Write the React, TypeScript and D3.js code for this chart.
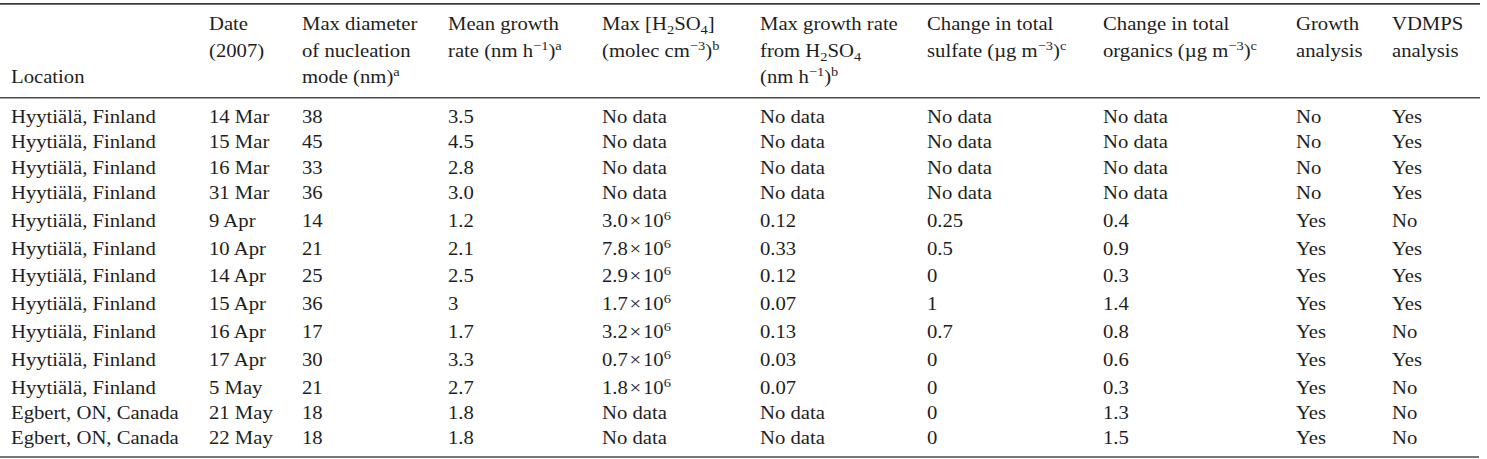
import React from "react";
import * as d3 from "d3";

const locations = [
  "Hyytiälä, Finland", "Hyytiälä, Finland", "Hyytiälä, Finland", "Hyytiälä, Finland",
  "Hyytiälä, Finland", "Hyytiälä, Finland", "Hyytiälä, Finland", "Hyytiälä, Finland",
  "Hyytiälä, Finland", "Hyytiälä, Finland", "Hyytiälä, Finland",
  "Egbert, ON, Canada", "Egbert, ON, Canada",
];
const dates = ["14 Mar", "15 Mar", "16 Mar", "31 Mar", "9 Apr", "10 Apr", "14 Apr", "15 Apr", "16 Apr", "17 Apr", "5 May", "21 May", "22 May"];
const maxDiameter = ["38", "45", "33", "36", "14", "21", "25", "36", "17", "30", "21", "18", "18"];
const meanGrowth = ["3.5", "4.5", "2.8", "3.0", "1.2", "2.1", "2.5", "3", "1.7", "3.3", "2.7", "1.8", "1.8"];
// mantissa of [H2SO4] ×10^6, or "No data"
const maxH2SO4 = ["No data", "No data", "No data", "No data", "3.0", "7.8", "2.9", "1.7", "3.2", "0.7", "1.8", "No data", "No data"];
const maxGrowthH2SO4 = ["No data", "No data", "No data", "No data", "0.12", "0.33", "0.12", "0.07", "0.13", "0.03", "0.07", "No data", "No data"];
const sulfateChange = ["No data", "No data", "No data", "No data", "0.25", "0.5", "0", "1", "0.7", "0", "0", "0", "0"];
const organicsChange = ["No data", "No data", "No data", "No data", "0.4", "0.9", "0.3", "1.4", "0.8", "0.6", "0.3", "1.3", "1.5"];
const growthAnalysis = ["No", "No", "No", "No", "Yes", "Yes", "Yes", "Yes", "Yes", "Yes", "Yes", "Yes", "Yes"];
const vdmpsAnalysis = ["Yes", "Yes", "Yes", "Yes", "No", "Yes", "Yes", "Yes", "No", "Yes", "No", "No", "No"];

type Seg = { t: string; s?: "sup" | "sub" };
const columnKeys = ["loc", "date", "diam", "mgr", "h2so4", "mgrh", "sulf", "org", "grow", "vdmps"];
// header lines per column (line index 0..2)
const headers: Record<string, (Seg[] | null)[]> = {
  loc: [null, null, [{ t: "Location" }]],
  date: [[{ t: "Date" }], [{ t: "(2007)" }], null],
  diam: [[{ t: "Max diameter" }], [{ t: "of nucleation" }], [{ t: "mode (nm)" }, { t: "a", s: "sup" }]],
  mgr: [[{ t: "Mean growth" }], [{ t: "rate (nm h" }, { t: "−1", s: "sup" }, { t: ")" }, { t: "a", s: "sup" }], null],
  h2so4: [[{ t: "Max [H" }, { t: "2", s: "sub" }, { t: "SO" }, { t: "4", s: "sub" }, { t: "]" }], [{ t: "(molec cm" }, { t: "−3", s: "sup" }, { t: ")" }, { t: "b", s: "sup" }], null],
  mgrh: [[{ t: "Max growth rate" }], [{ t: "from H" }, { t: "2", s: "sub" }, { t: "SO" }, { t: "4", s: "sub" }], [{ t: "(nm h" }, { t: "−1", s: "sup" }, { t: ")" }, { t: "b", s: "sup" }]],
  sulf: [[{ t: "Change in total" }], [{ t: "sulfate (µg m" }, { t: "−3", s: "sup" }, { t: ")" }, { t: "c", s: "sup" }], null],
  org: [[{ t: "Change in total" }], [{ t: "organics (µg m" }, { t: "−3", s: "sup" }, { t: ")" }, { t: "c", s: "sup" }], null],
  grow: [[{ t: "Growth" }], [{ t: "analysis" }], null],
  vdmps: [[{ t: "VDMPS" }], [{ t: "analysis" }], null],
};

const W = 1487;
const H = 459;
const FS = 18;
const SX = 1.15;
const COLOR = "#1e1e1e";

const xCol = d3.scaleOrdinal<string, number>()
  .domain(columnKeys)
  .range([11, 209, 302, 448, 602, 760, 927, 1103, 1296, 1392]);

const headerY = d3.scaleLinear().domain([0, 2]).range([30, 83]);

function Rich({ x, y, segs }: { x: number; y: number; segs: Seg[] }) {
  let off = 0;
  return (
    <text transform={`translate(${x},${y}) scale(${SX},1)`} fontFamily="'Liberation Serif', 'Times New Roman', serif" fontSize={FS} fill={COLOR}>
      {segs.map((sg, i) => {
        const target = sg.s === "sup" ? -7 : sg.s === "sub" ? 4 : 0;
        const dy = target - off;
        off = target;
        return (
          <tspan key={i} dy={dy} fontSize={sg.s ? FS * 0.7 : FS}>
            {sg.t}
          </tspan>
        );
      })}
    </text>
  );
}

export default function App() {
  const n = locations.length;
  const hasSup = maxH2SO4.map((v) => v !== "No data");
  const gaps = d3.range(n).map((i) => (i === 0 ? 0 : hasSup[i] ? 27.8 : 25.4));
  const cum = Array.from(d3.cumsum(gaps));
  const rowY = d3.scaleLinear().domain([0, 1]).range([122.7, 123.7]);

  const cells: { key: string; segs: Seg[] }[][] = d3.range(n).map((i) => [
    { key: "loc", segs: [{ t: locations[i] }] },
    { key: "date", segs: [{ t: dates[i] }] },
    { key: "diam", segs: [{ t: maxDiameter[i] }] },
    { key: "mgr", segs: [{ t: meanGrowth[i] }] },
    {
      key: "h2so4",
      segs: maxH2SO4[i] === "No data" ? [{ t: "No data" }] : [{ t: `${maxH2SO4[i]}\u200a×\u200a10` }, { t: "6", s: "sup" }],
    },
    { key: "mgrh", segs: [{ t: maxGrowthH2SO4[i] }] },
    { key: "sulf", segs: [{ t: sulfateChange[i] }] },
    { key: "org", segs: [{ t: organicsChange[i] }] },
    { key: "grow", segs: [{ t: growthAnalysis[i] }] },
    { key: "vdmps", segs: [{ t: vdmpsAnalysis[i] }] },
  ]);

  return (
    <svg width={W} height={H} style={{ position: "absolute", left: 0, top: 0, background: "#fff" }}>
      <line x1={0} x2={1480} y1={3.8} y2={3.8} stroke="#3a3a3a" strokeWidth={1.8} />
      <line x1={0} x2={1480} y1={97.8} y2={97.8} stroke="#4a4a4a" strokeWidth={1.6} />
      <line x1={0} x2={1479} y1={457} y2={457} stroke="#4a4a4a" strokeWidth={1.5} />
      {columnKeys.map((k) =>
        headers[k].map((segs, li) =>
          segs ? <Rich key={`${k}-${li}`} x={xCol(k)} y={headerY(li)} segs={segs} /> : null
        )
      )}
      {cells.map((row, i) =>
        row.map((c) => <Rich key={`${i}-${c.key}`} x={xCol(c.key)} y={rowY(cum[i])} segs={c.segs} />)
      )}
    </svg>
  );
}
